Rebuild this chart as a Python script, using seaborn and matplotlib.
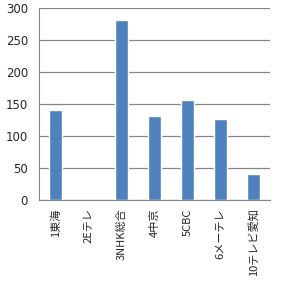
import matplotlib
matplotlib.use("Agg")
import matplotlib.pyplot as plt
import seaborn as sns
import pandas as pd
import numpy as np

categories = ["1東海", "2Eテレ", "3NHK総合", "4中京", "5CBC", "6メーテレ", "10テレビ愛知"]
values = [141, 0, 281, 131, 156, 127, 41]
yticks = [0, 50, 100, 150, 200, 250, 300]

sns.set_style("white")
plt.rcParams['font.family'] = ['Noto Sans CJK JP', 'DejaVu Sans']

fig = plt.figure(figsize=(2.81, 2.82), dpi=100)
ax = fig.add_axes([39/281, (282-200)/282, (270-39)/281, 192/282])

df = pd.DataFrame({"cat": categories, "val": values})
sns.barplot(data=df, x="cat", y="val", color="#4F81BD", saturation=1, width=0.4, ax=ax)

ax.set_ylim(0, 300)
ax.set_xlim(-0.5, len(categories) - 0.5)
ax.set_yticks(yticks)
ax.set_yticklabels([str(v) for v in yticks], fontsize=8.5, family=['DejaVu Sans'])
ax.yaxis.grid(True, color="#868686", linewidth=0.9)
ax.set_axisbelow(True)
ax.set_xlabel("")
ax.set_ylabel("")
for s in ["top", "right"]:
    ax.spines[s].set_visible(False)
ax.spines["left"].set_color("#868686")
ax.spines["bottom"].set_color("#868686")
ax.tick_params(axis="y", length=0, pad=8)
ax.set_xticks(range(len(categories)))
ax.set_xticklabels(categories, rotation=90, fontsize=8, va="top")
ax.tick_params(axis="x", which="major", length=0, pad=6)
ax.set_xticks(np.arange(-0.5, len(categories)), minor=True)
ax.tick_params(axis="x", which="minor", length=5, color="#868686", width=0.9)

fig.savefig("out.png", dpi=100)
